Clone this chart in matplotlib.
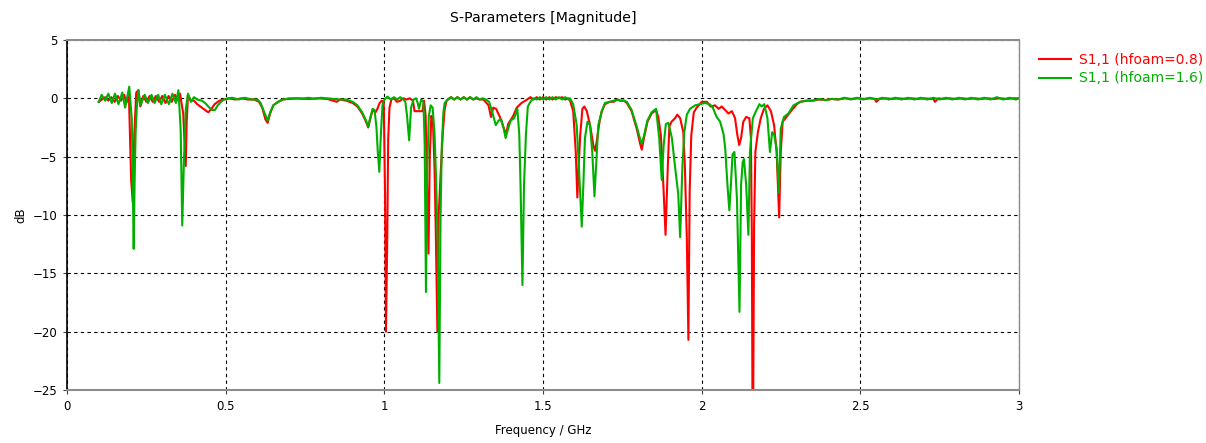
import matplotlib
matplotlib.use("Agg")
import matplotlib.pyplot as plt

# S1,1 magnitude, hfoam = 0.8
red_f = [
    0.100, 0.110, 0.120, 0.130, 0.140, 0.150, 0.160, 0.170, 0.180, 0.187,
    0.195, 0.202, 0.207, 0.212, 0.218, 0.225, 0.231, 0.240, 0.250, 0.260,
    0.270, 0.280, 0.290, 0.300, 0.310, 0.320, 0.330, 0.340, 0.350, 0.356,
    0.366, 0.371, 0.374, 0.377, 0.381, 0.390, 0.400, 0.410, 0.425, 0.435,
    0.445, 0.455, 0.465, 0.480, 0.495, 0.510, 0.530, 0.550, 0.570, 0.590,
    0.605, 0.615, 0.625, 0.632, 0.640, 0.650, 0.665, 0.680, 0.700, 0.730,
    0.760, 0.790, 0.820, 0.850, 0.860, 0.880, 0.900, 0.915, 0.930, 0.942,
    0.949, 0.956, 0.963, 0.972, 0.978, 0.985, 0.992, 0.998, 1.002, 1.005,
    1.009, 1.012, 1.016, 1.022, 1.030, 1.040, 1.050, 1.060, 1.070, 1.080,
    1.090, 1.095, 1.120, 1.125, 1.130, 1.135, 1.139, 1.143, 1.148, 1.153,
    1.158, 1.162, 1.167, 1.171, 1.177, 1.184, 1.190, 1.196, 1.210, 1.220,
    1.230, 1.240, 1.250, 1.260, 1.270, 1.280, 1.290, 1.300, 1.312, 1.322,
    1.328, 1.336, 1.343, 1.352, 1.364, 1.372, 1.383, 1.390, 1.406, 1.417,
    1.432, 1.450, 1.460, 1.470, 1.480, 1.490, 1.500, 1.510, 1.520, 1.530,
    1.540, 1.550, 1.560, 1.570, 1.580, 1.585, 1.595, 1.603, 1.608, 1.612,
    1.617, 1.624, 1.630, 1.638, 1.648, 1.659, 1.664, 1.669, 1.678, 1.685,
    1.695, 1.710, 1.722, 1.735, 1.743, 1.755, 1.764, 1.779, 1.795, 1.806,
    1.811, 1.818, 1.829, 1.842, 1.856, 1.863, 1.871, 1.879, 1.886, 1.893,
    1.898, 1.905, 1.916, 1.923, 1.932, 1.942, 1.947, 1.953, 1.958, 1.962,
    1.967, 1.975, 1.984, 2.000, 2.016, 2.028, 2.042, 2.053, 2.063, 2.074,
    2.084, 2.095, 2.105, 2.112, 2.118, 2.124, 2.131, 2.140, 2.150, 2.155,
    2.158, 2.160, 2.162, 2.165, 2.169, 2.177, 2.186, 2.196, 2.207, 2.218,
    2.228, 2.236, 2.244, 2.249, 2.255, 2.267, 2.284, 2.300, 2.310, 2.330,
    2.350, 2.370, 2.390, 2.410, 2.430, 2.450, 2.470, 2.490, 2.510, 2.530,
    2.545, 2.550, 2.560, 2.580, 2.600, 2.620, 2.640, 2.660, 2.680, 2.700,
    2.720, 2.730, 2.735, 2.745, 2.760, 2.780, 2.800, 2.820, 2.840, 2.860,
    2.880, 2.900, 2.920, 2.940, 2.960, 2.980, 3.000,
]
red_db = [
    -0.3, -0.1, 0.1, -0.2, 0.1, -0.3, 0.2, -0.2, 0.3, -0.4,
    0.2, -7.0, -8.9, -3.0, 0.5, 0.7, -0.7, 0.2, -0.3, 0.2,
    -0.3, 0.2, -0.3, 0.2, -0.4, 0.2, -0.3, 0.3, -0.2, 0.4,
    -1.3, -4.0, -5.8, -2.1, 0.3, -0.2, -0.2, -0.5, -0.8, -1.0,
    -1.2, -0.9, -0.5, -0.2, -0.1, 0.0, -0.1, 0.0, -0.1, -0.1,
    -0.3, -0.8, -1.8, -2.1, -1.3, -0.6, -0.3, -0.1, -0.05, 0.0,
    -0.05, 0.0, -0.05, -0.3, -0.1, -0.2, -0.4, -0.7, -1.3, -2.0,
    -2.5, -1.7, -1.0, -1.2, -0.9, -0.4, -0.2, -0.4, -8.0, -20.0,
    -12.0, -3.5, -0.8, -0.1, 0.0, -0.3, -0.2, 0.0, -0.1, 0.0,
    -0.2, -1.1, -1.1, -0.2, -1.5, -8.0, -13.3, -5.0, -1.5, -2.0,
    -6.0, -11.5, -20.0, -10.0, -6.6, -3.0, -0.9, -0.2, 0.1, -0.1,
    0.1, -0.1, 0.1, -0.1, 0.1, -0.1, 0.0, -0.1, -0.1, -0.4,
    -0.6, -1.6, -0.8, -0.9, -1.6, -2.2, -3.1, -2.2, -1.5, -0.8,
    -0.4, -0.1, 0.1, -0.1, 0.1, -0.1, 0.1, -0.1, 0.1, -0.1,
    0.1, 0.0, 0.1, -0.1, 0.0, -0.2, -1.1, -4.6, -8.5, -6.0,
    -3.2, -0.9, -0.7, -1.1, -2.3, -4.1, -4.5, -3.7, -2.0, -1.1,
    -0.5, -0.3, -0.3, -0.1, -0.2, -0.2, -0.4, -1.1, -2.6, -3.9,
    -4.4, -3.4, -2.0, -1.3, -1.0, -1.6, -3.1, -7.4, -11.7, -5.9,
    -2.4, -2.0, -1.7, -1.4, -1.7, -2.9, -5.9, -12.0, -20.7, -8.0,
    -3.2, -1.2, -0.8, -0.3, -0.3, -0.7, -0.6, -0.9, -0.7, -1.0,
    -1.3, -1.1, -1.7, -3.1, -4.0, -3.4, -2.0, -1.6, -1.7, -3.4,
    -12.0, -27.0, -27.0, -10.9, -4.6, -2.9, -1.7, -0.9, -0.6, -1.1,
    -2.3, -4.6, -10.2, -4.6, -2.0, -1.6, -1.0, -0.5, -0.3, -0.2,
    -0.2, -0.1, -0.15, -0.05, -0.1, 0.0, -0.05, 0.0, -0.05, 0.0,
    -0.05, -0.3, -0.05, 0.0, -0.05, 0.0, -0.05, 0.0, -0.05, 0.0,
    -0.05, -0.05, -0.3, 0.0, -0.05, 0.0, -0.05, 0.0, -0.05, 0.0,
    -0.05, 0.0, -0.05, 0.0, -0.05, 0.0, 0.0,
]

# S1,1 magnitude, hfoam = 1.6
green_f = [
    0.100, 0.109, 0.120, 0.130, 0.141, 0.151, 0.162, 0.174, 0.183, 0.196,
    0.204, 0.207, 0.210, 0.213, 0.216, 0.220, 0.225, 0.231, 0.245, 0.255,
    0.266, 0.276, 0.287, 0.297, 0.308, 0.321, 0.332, 0.343, 0.351, 0.358,
    0.363, 0.368, 0.374, 0.381, 0.390, 0.400, 0.410, 0.425, 0.435, 0.445,
    0.456, 0.466, 0.475, 0.485, 0.495, 0.510, 0.520, 0.540, 0.560, 0.580,
    0.600, 0.610, 0.620, 0.632, 0.640, 0.650, 0.665, 0.680, 0.700, 0.720,
    0.740, 0.760, 0.780, 0.800, 0.820, 0.840, 0.860, 0.880, 0.900, 0.915,
    0.930, 0.942, 0.949, 0.956, 0.963, 0.969, 0.975, 0.979, 0.984, 0.989,
    0.994, 1.000, 1.010, 1.020, 1.030, 1.040, 1.050, 1.060, 1.066, 1.071,
    1.078, 1.084, 1.092, 1.100, 1.105, 1.109, 1.116, 1.123, 1.127, 1.131,
    1.135, 1.140, 1.146, 1.152, 1.158, 1.163, 1.168, 1.173, 1.177, 1.181,
    1.186, 1.190, 1.200, 1.210, 1.220, 1.230, 1.240, 1.250, 1.260, 1.270,
    1.280, 1.290, 1.300, 1.310, 1.320, 1.330, 1.339, 1.351, 1.360, 1.368,
    1.376, 1.382, 1.390, 1.398, 1.409, 1.419, 1.425, 1.429, 1.435, 1.440,
    1.446, 1.452, 1.460, 1.470, 1.480, 1.490, 1.500, 1.510, 1.520, 1.530,
    1.540, 1.550, 1.560, 1.570, 1.580, 1.585, 1.595, 1.606, 1.613, 1.622,
    1.627, 1.632, 1.640, 1.648, 1.655, 1.662, 1.667, 1.674, 1.685, 1.695,
    1.710, 1.722, 1.735, 1.743, 1.755, 1.764, 1.779, 1.795, 1.806, 1.811,
    1.818, 1.829, 1.842, 1.856, 1.866, 1.874, 1.880, 1.887, 1.895, 1.906,
    1.916, 1.926, 1.932, 1.939, 1.945, 1.953, 1.963, 1.979, 1.995, 2.010,
    2.025, 2.035, 2.047, 2.058, 2.069, 2.074, 2.081, 2.087, 2.092, 2.097,
    2.103, 2.111, 2.119, 2.124, 2.129, 2.133, 2.140, 2.147, 2.152, 2.161,
    2.171, 2.182, 2.189, 2.197, 2.207, 2.215, 2.222, 2.228, 2.236, 2.243,
    2.249, 2.259, 2.273, 2.289, 2.310, 2.330, 2.350, 2.370, 2.390, 2.410,
    2.430, 2.450, 2.470, 2.490, 2.510, 2.530, 2.550, 2.570, 2.590, 2.610,
    2.630, 2.650, 2.670, 2.690, 2.710, 2.730, 2.750, 2.770, 2.790, 2.810,
    2.830, 2.850, 2.870, 2.890, 2.910, 2.930, 2.950, 2.970, 2.990, 3.000,
]
green_db = [
    -0.3, 0.3, -0.2, 0.4, -0.4, 0.4, -0.5, 0.5, -0.8, 1.0,
    -1.8, -7.0, -12.9, -7.0, -3.0, -0.7, 0.7, -0.6, 0.3, -0.4,
    0.3, -0.4, 0.3, -0.5, 0.3, -0.5, 0.4, -0.4, 0.7, -2.7,
    -10.9, -5.6, -1.0, 0.4, -0.3, 0.1, -0.1, -0.2, -0.4, -0.7,
    -1.0, -1.0, -0.6, -0.3, -0.1, 0.0, 0.05, -0.1, 0.05, -0.1,
    -0.1, -0.4, -1.1, -1.9, -1.2, -0.6, -0.3, -0.1, 0.0, 0.0,
    -0.05, 0.05, -0.05, 0.05, 0.0, -0.05, -0.1, -0.1, -0.3, -0.6,
    -1.2, -1.9, -2.4, -1.6, -0.9, -1.0, -2.5, -4.5, -6.3, -3.0,
    -0.6, -0.1, 0.15, -0.1, 0.1, -0.1, 0.1, -0.1, -0.3, -1.4,
    -3.6, -0.8, -0.1, 0.0, -0.4, -0.9, -0.1, -0.3, -4.0, -16.6,
    -6.0, -1.5, -0.6, -0.8, -3.0, -7.0, -12.5, -24.4, -10.0, -4.0,
    -1.2, -0.4, -0.1, 0.1, -0.1, 0.1, -0.1, 0.1, -0.1, 0.1,
    -0.1, 0.1, -0.1, 0.0, -0.1, -0.3, -1.1, -2.3, -1.9, -1.8,
    -2.6, -3.4, -2.6, -1.9, -1.7, -0.9, -3.1, -7.4, -16.0, -7.4,
    -3.1, -0.7, -0.3, 0.0, -0.1, 0.1, -0.1, 0.1, -0.1, 0.1,
    -0.1, 0.1, -0.1, 0.1, -0.1, 0.0, -0.5, -2.3, -5.9, -11.0,
    -7.4, -3.4, -2.0, -2.3, -4.6, -8.4, -5.9, -2.3, -1.1, -0.4,
    -0.3, -0.2, -0.1, -0.2, -0.2, -0.3, -1.0, -2.4, -3.5, -3.9,
    -3.2, -1.9, -1.2, -0.9, -3.4, -7.0, -4.0, -2.2, -2.1, -3.4,
    -5.9, -8.2, -11.9, -5.9, -2.9, -1.4, -0.9, -0.6, -0.5, -0.4,
    -0.5, -0.8, -1.6, -2.0, -3.1, -4.3, -7.4, -9.6, -7.4, -4.8,
    -4.6, -8.6, -18.3, -7.4, -5.5, -5.2, -7.4, -11.7, -4.6, -1.7,
    -1.1, -0.5, -0.7, -0.5, -1.7, -4.6, -2.9, -3.1, -4.3, -8.1,
    -2.6, -1.6, -1.3, -0.6, -0.3, -0.2, -0.2, -0.05, -0.15, -0.05,
    -0.1, 0.05, -0.1, 0.05, -0.1, 0.05, -0.1, 0.05, -0.1, 0.05,
    -0.1, 0.05, -0.1, 0.05, -0.1, 0.05, -0.1, 0.05, -0.1, 0.05,
    -0.1, 0.05, -0.1, 0.05, -0.1, 0.1, -0.1, 0.05, -0.1, 0.0,
]

series = [
    ("S1,1 (hfoam=0.8)", red_f, red_db, "#ff0000"),
    ("S1,1 (hfoam=1.6)", green_f, green_db, "#00b000"),
]

x_ticks = [0, 0.5, 1, 1.5, 2, 2.5, 3]
x_tick_labels = ["0", "0.5", "1", "1.5", "2", "2.5", "3"]
y_ticks = [5, 0, -5, -10, -15, -20, -25]

plt.rcParams["font.family"] = "DejaVu Sans"
plt.rcParams["font.size"] = 8.5

fig = plt.figure(figsize=(12.06, 4.43), dpi=100)
ax = fig.add_axes([0.0556, 0.1196, 0.7894, 0.7901])

for label, f, db, color in series:
    ax.plot(f, db, color=color, lw=1.5, label=label)

ax.set_xlim(0, 3)
ax.set_ylim(-25, 5)
ax.set_xticks(x_ticks)
ax.set_xticklabels(x_tick_labels)
ax.set_yticks(y_ticks)
ax.grid(True, color="black", linestyle=(0, (3, 3)), lw=0.8)
ax.tick_params(length=3, width=0.8, color="#404040", pad=4)

ax.spines["left"].set_color("black")
ax.spines["left"].set_linewidth(1.2)
for side in ("top", "bottom", "right"):
    ax.spines[side].set_color("#8c8c8c")
    ax.spines[side].set_linewidth(1.5)
ax.spines["right"].set_linewidth(1.0)

ax.set_title("S-Parameters [Magnitude]", pad=13)
ax.set_xlabel("Frequency / GHz", labelpad=8)
ax.set_ylabel("dB", labelpad=4)

ax.legend(loc="upper left", bbox_to_anchor=(1.008, 1.0), frameon=False,
          labelcolor="linecolor", fontsize=10, handlelength=2.3,
          handletextpad=0.6, labelspacing=0.35)

fig.savefig("out.png", dpi=100)
